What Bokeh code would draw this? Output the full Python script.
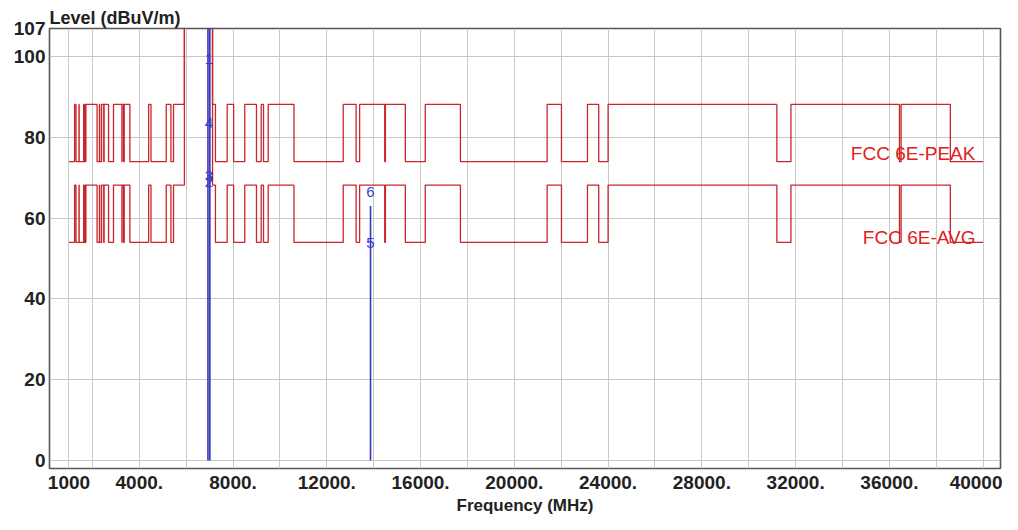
from bokeh.plotting import figure
from bokeh.models import FixedTicker, Range1d
from bokeh.embed import file_html
from bokeh.resources import INLINE
from bokeh.core.properties import value

# ---- limit lines (MHz band edges and level of each segment, dBuV/m) ----
band_edges = [1000, 1240, 1300, 1427, 1435, 1626.5, 1645.5, 1646.5, 1660, 1710,
              1718.8, 1722.2, 2200, 2300, 2310, 2390, 2483.5, 2500, 2690, 2900,
              3260, 3267, 3332, 3339, 3345.8, 3358, 3600, 4400, 4500, 5150,
              5350, 5460, 5925, 7125, 7250, 7750, 8025, 8500, 9000, 9200,
              9300, 9500, 10600, 12700, 13250, 13400, 14470, 14500, 15350, 16200,
              17700, 21400, 22010, 23120, 23600, 24000, 31200, 31800, 36430, 36500,
              38600, 40000]

peak_limit = [74, 88.2, 74, 88.2, 74, 88.2, 74, 88.2, 74, 88.2,
              74, 88.2, 74, 88.2, 74, 88.2, 74, 88.2, 74, 88.2,
              74, 88.2, 74, 88.2, 74, 88.2, 74, 88.2, 74, 88.2,
              74, 88.2, 200, 88.2, 74, 88.2, 74, 88.2, 74, 88.2,
              74, 88.2, 74, 88.2, 74, 88.2, 74, 88.2, 74, 88.2,
              74, 88.2, 74, 88.2, 74, 88.2, 74, 88.2, 74, 88.2,
              74]

avg_limit = [54, 68.2, 54, 68.2, 54, 68.2, 54, 68.2, 54, 68.2,
             54, 68.2, 54, 68.2, 54, 68.2, 54, 68.2, 54, 68.2,
             54, 68.2, 54, 68.2, 54, 68.2, 54, 68.2, 54, 68.2,
             54, 68.2, 200, 68.2, 54, 68.2, 54, 68.2, 54, 68.2,
             54, 68.2, 54, 68.2, 54, 68.2, 54, 68.2, 54, 68.2,
             54, 68.2, 54, 68.2, 54, 68.2, 54, 68.2, 54, 68.2,
             54]

limit_names = ["FCC 6E-PEAK", "FCC 6E-AVG"]
limit_label_level = [76.0, 55.3]
limit_label_freq = 39670

# ---- measured emissions ----
emission_freq = [6930, 7010, 13865]
emission_level = [130, 130, 63]

marker_freq = [6970, 6970, 6970, 6970, 13865, 13865]
marker_level = [99.5, 69.0, 70.5, 83.5, 53.8, 66.5]
marker_text = ["1", "2", "3", "4", "5", "6"]

# ---- axes ----
x_tick_values = [1000, 4000, 8000, 12000, 16000, 20000, 24000, 28000, 32000, 36000, 40000]
x_tick_labels = ["1000", "4000.", "8000.", "12000.", "16000.", "20000.", "24000.",
                 "28000.", "32000.", "36000.", "40000"]
x_grid_values = [1000] + list(range(2000, 40001, 2000))
y_tick_values = [0, 20, 40, 60, 80, 100, 107]
y_grid_values = [0, 20, 40, 60, 80, 100]

FONT = "Liberation Sans"

p = figure(frame_width=951, frame_height=440, x_range=Range1d(170, 40740), y_range=Range1d(-2, 107),
           output_backend="svg", toolbar_location=None,
           min_border_left=49, min_border_right=2, min_border_top=28, min_border_bottom=46)
p.background_fill_color = "white"
p.border_fill_color = "white"
p.outline_line_color = "#555555"
p.outline_line_width = 1.6

p.title.text = "Level (dBuV/m)"
p.title.text_font = FONT
p.title.text_font_style = "bold"
p.title.text_font_size = "18px"
p.title.text_color = "#222222"
p.title.align = "left"
p.title.offset = 0
p.title.standoff = 2

p.xaxis.ticker = FixedTicker(ticks=x_tick_values)
p.xaxis.major_label_overrides = {v: s for v, s in zip(x_tick_values, x_tick_labels)}
p.yaxis.ticker = FixedTicker(ticks=y_tick_values)
p.xgrid.ticker = FixedTicker(ticks=x_grid_values)
p.ygrid.ticker = FixedTicker(ticks=y_grid_values)
for g in (p.xgrid, p.ygrid):
    g.grid_line_color = "#c8c8c8"
    g.grid_line_width = 1

for ax in (p.xaxis, p.yaxis):
    ax.axis_line_color = None
    ax.major_tick_line_color = None
    ax.minor_tick_line_color = None
    ax.major_tick_out = 0
    ax.major_tick_in = 0
    ax.major_label_text_font = FONT
    ax.major_label_text_font_style = "bold"
    ax.major_label_text_font_size = "19px"
    ax.major_label_text_color = "#222222"
p.xaxis.major_label_standoff = 7
p.yaxis.major_label_standoff = 4
p.xaxis.axis_label = "Frequency (MHz)"
p.xaxis.axis_label_text_font = FONT
p.xaxis.axis_label_text_font_style = "bold"
p.xaxis.axis_label_text_font_size = "17px"
p.xaxis.axis_label_text_color = "#222222"
p.xaxis.axis_label_standoff = 4


def steps(edges, levels):
    xs, ys = [], []
    for i, lv in enumerate(levels):
        xs += [edges[i], edges[i + 1]]
        ys += [lv, lv]
    return xs, ys


red = "#c8262c"
for lv in (peak_limit, avg_limit):
    xs, ys = steps(band_edges, lv)
    p.line(xs, ys, line_color=red, line_width=1.3)

# emissions
p.segment(x0=emission_freq, y0=[0] * len(emission_freq), x1=emission_freq, y1=emission_level,
          line_color="#3535b8", line_width=1.6)

p.text(x=marker_freq, y=marker_level, text=marker_text, text_color="#3a3ad0",
       text_font=value(FONT), text_font_size="15px", text_align="center",
       text_baseline="middle")

p.text(x=[limit_label_freq] * 2, y=limit_label_level, text=limit_names,
       text_color="#dd2020", text_font=value(FONT), text_font_size="19px",
       text_align="right", text_baseline="middle")

open("out.html", "w").write(file_html(p, INLINE))
